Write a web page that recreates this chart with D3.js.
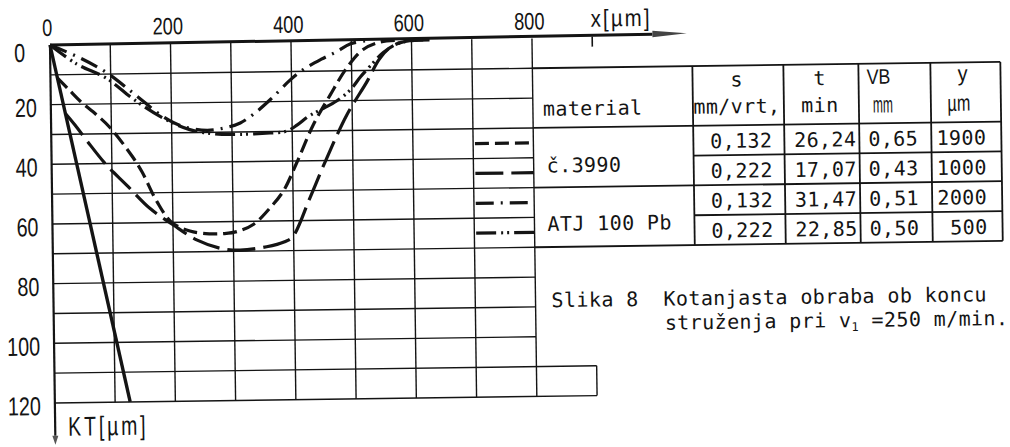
<!DOCTYPE html>
<html>
<head>
<meta charset="utf-8">
<script src="https://cdn.jsdelivr.net/npm/d3@7"></script>
<style>
  html, body { margin: 0; padding: 0; background: #fff; }
  svg { display: block; }
</style>
</head>
<body>
<svg id="chart" width="1010" height="447"></svg>
<script>
// ---- axis ticks ----
const xTickValues = [0, 200, 400, 600, 800];
const yTickValues = [0, 20, 40, 60, 80, 100, 120];
const gridXValues = [100, 200, 300, 400, 500, 600, 700, 800];
const gridYValues = [10, 20, 30, 40, 50, 60, 70, 80, 90, 100, 110, 120];

// ---- crater profiles: [x µm, KT µm] ----
const rakeFace = [[0, 0], [125, 120]];
const c3990_s0132 = [[11, 11], [30, 15], [49, 19], [75, 23.5], [98, 28], [135, 38], [150, 43], [174, 53],
  [198, 60], [228, 63], [260, 64], [285, 64], [306, 63.4], [334, 61], [362, 55.5], [384, 50], [407, 40.5],
  [435, 28], [464, 18], [492, 9], [519, 3], [548, 0.5], [575, 0]];
const c3990_s0222 = [[24, 23], [40, 27], [60, 32.5], [91, 40.5], [124, 47.3], [162, 55.2], [200, 60.8],
  [239, 66], [278, 68.9], [311, 69.6], [355, 68.6], [385, 67], [398, 65.5], [428, 52.4], [454, 40.4],
  [491, 24.8], [525, 13.8], [547, 6], [569, 1.8], [597, 0.2], [620, 0]];
const atj_s0132 = [[0, 0], [50, 4.5], [94, 9.6], [140, 17], [186, 24.5], [220, 28], [259, 29.3], [290, 28.5],
  [314, 27], [340, 23.5], [366, 19], [398, 12.8], [419, 9.5], [450, 6], [476, 3.5], [498, 1], [525, 0]];
const atj_s0222 = [[0, 0], [44, 6.5], [93, 11.4], [137, 18.5], [186, 25], [230, 29], [270, 30.5], [313, 30.8],
  [363, 30.5], [390, 30], [408, 28], [428, 25], [447, 23], [475, 20], [497, 16.5], [515, 12], [531, 8.5],
  [553, 4], [576, 1.2], [600, 0.2], [630, 0]];

// ---- table ----
const materials = ["č.3990", "ATJ 100 Pb"];
const feedValues = ["0,132", "0,222", "0,132", "0,222"];
const timeValues = ["26,24", "17,07", "31,47", "22,85"];
const wearValues = ["0,65", "0,43", "0,51", "0,50"];
const lengthValues = ["1900", "1000", "2000", "500"];

// ---- drawing ----
const ink = "#141414";
const mono = "'DejaVu Sans Mono', 'Liberation Mono', monospace";
const lettering = "'Liberation Sans', Arial, sans-serif";
const squeeze = 0.76;          // condensed stencil lettering of the axes
const dashStyles = ["14,6", "28,8", "18,7,2,7", "20,5,2,4,2,5"];

const svg = d3.select("#chart");
const x = d3.scaleLinear().domain([0, 800]).range([50, 532]);
const y = d3.scaleLinear().domain([0, 120]).range([45, 403]);

// the whole sheet sits slightly tilted
const sheet = svg.append("g").attr("transform", "rotate(-0.78,50,45)");

// grid
const grid = sheet.append("g").attr("stroke", ink).attr("stroke-width", 1.4).attr("fill", "none");
grid.selectAll("line.v").data(gridXValues).join("line").attr("class", "v")
  .attr("x1", d => x(d)).attr("x2", d => x(d)).attr("y1", y(0)).attr("y2", y(120));
grid.selectAll("line.h").data(gridYValues).join("line").attr("class", "h")
  .attr("x1", x(0)).attr("x2", d => d >= 110 ? x(900) : x(800)).attr("y1", d => y(d)).attr("y2", d => y(d));
grid.append("line").attr("x1", x(900)).attr("x2", x(900)).attr("y1", y(110)).attr("y2", y(120));

// table frame
const colEdges = [x(800), 692, 783, 858, 930, 1000];
const tableRight = colEdges[colEdges.length - 1];
const frame = sheet.append("g").attr("stroke", ink).attr("stroke-width", 1.8);
[[10, colEdges[0]], [30, colEdges[0]], [40, colEdges[1]], [50, colEdges[0]], [60, colEdges[1]], [70, colEdges[0]]]
  .forEach(([v, x0]) => frame.append("line").attr("x1", x0).attr("x2", tableRight).attr("y1", y(v)).attr("y2", y(v)));
colEdges.slice(1).forEach(cx => frame.append("line").attr("x1", cx).attr("x2", cx).attr("y1", y(10)).attr("y2", y(70)));

// axes lines
const axes = sheet.append("g").attr("stroke", ink).attr("fill", "none");
axes.append("line").attr("x1", x(0)).attr("x2", x(1000)).attr("y1", y(0)).attr("y2", y(0) - 2.5).attr("stroke-width", 3);
axes.append("path").attr("fill", "#444").attr("stroke", "none")
  .attr("d", `M${x(1000)},${y(0) - 6} L${x(1057)},${y(0) - 3} L${x(1000)},${y(0) + 0.5} Z`);
axes.append("line").attr("x1", x(900)).attr("x2", x(900)).attr("y1", y(0) - 1).attr("y2", y(0) + 9).attr("stroke-width", 1.6);
axes.append("line").attr("x1", x(0)).attr("x2", x(0)).attr("y1", y(0)).attr("y2", y(131)).attr("stroke-width", 2.2);
axes.append("path").attr("fill", "#555").attr("stroke", "none")
  .attr("d", `M${x(0) - 3},${y(131)} L${x(0) + 3},${y(131)} L${x(0)},${y(131) + 9} Z`);

// tick labels (condensed by a horizontal scale)
const xAxis = sheet.append("g").attr("transform", `translate(0,${y(0)})`)
  .call(d3.axisTop(x).tickValues(xTickValues).tickSize(0).tickPadding(9));
xAxis.select(".domain").remove();
xAxis.selectAll("text").attr("font-family", lettering).attr("font-size", 24).attr("fill", ink)
  .attr("transform", `scale(${squeeze},1)`).attr("dx", -3 / squeeze);

const yAxis = sheet.append("g").attr("transform", `translate(${x(0)},0)`)
  .call(d3.axisLeft(y).tickValues(yTickValues).tickSize(0).tickPadding(14));
yAxis.select(".domain").remove();
yAxis.selectAll("text").attr("font-family", lettering).attr("font-size", 26).attr("fill", ink)
  .attr("transform", `scale(${squeeze},1)`)
  .attr("dy", d => d === 0 ? "0.62em" : "0.44em")
  .attr("x", d => (d === 0 ? -25 : -14) / squeeze);

function stencil(str, x0, base, size, sx, sy, spacing, anchor) {
  return sheet.append("text").attr("transform", `translate(${x0},${base}) scale(${sx},${sy})`)
    .attr("text-anchor", anchor || "start").attr("font-family", lettering).attr("font-size", size)
    .attr("letter-spacing", spacing || 0).attr("fill", ink).text(str);
}
stencil("x[µm]", 591, 34, 24, 0.85, 1, 2.5);
stencil("KT[µm]", 63, 436, 27, 0.72, 1, 4);

// profiles
const line = d3.line().x(d => x(d[0])).y(d => y(d[1])).curve(d3.curveCatmullRom.alpha(0.5));
const curves = sheet.append("g").attr("fill", "none").attr("stroke", ink).attr("stroke-linecap", "butt");
curves.append("path").datum(rakeFace).attr("d", line).attr("stroke-width", 3.4);
[c3990_s0132, c3990_s0222, atj_s0132, atj_s0222].forEach((s, i) => {
  curves.append("path").datum(s).attr("d", line).attr("stroke-width", 3.2).attr("stroke-dasharray", dashStyles[i]);
});

// legend samples in the 700–800 column
const legend = sheet.append("g").attr("stroke", ink).attr("stroke-width", 3.2);
dashStyles.forEach((ds, i) => {
  legend.append("line").attr("x1", x(703)).attr("x2", x(800)).attr("y1", y(35 + 10 * i)).attr("y2", y(35 + 10 * i))
    .attr("stroke-dasharray", ds);
});

// table text
const txt = sheet.append("g").attr("fill", ink).attr("font-family", mono).attr("font-size", 20).attr("letter-spacing", 0.4);
txt.append("text").attr("x", 542).attr("y", y(26)).text("material");
txt.selectAll("text.mat").data(materials).join("text").attr("class", "mat")
  .attr("x", 545).attr("y", (d, i) => y(45 + 19.6 * i)).text(d => d);

txt.append("text").attr("x", 736).attr("y", y(17)).attr("text-anchor", "middle").text("s");
txt.append("text").attr("x", 736).attr("y", y(26)).attr("text-anchor", "middle").text("mm/vrt,");
txt.append("text").attr("x", 819).attr("y", y(17)).attr("text-anchor", "middle").text("t");
txt.append("text").attr("x", 819).attr("y", y(26)).attr("text-anchor", "middle").text("min");

stencil("VB", 878, y(16.8), 21, 0.85, 1, 0, "middle");
stencil("mm", 882, y(26.4), 16, 0.75, 1.45, 0, "middle");
stencil("y", 962, y(16.2), 22, 0.9, 1, 0, "middle");
stencil("µm", 958, y(26.2), 19, 0.85, 1.2, 0, "middle");

const rowBase = i => y(37.6 + 10 * i);
txt.selectAll("text.s").data(feedValues).join("text").attr("class", "s")
  .attr("x", 771).attr("y", (d, i) => rowBase(i)).attr("text-anchor", "end").text(d => d);
txt.selectAll("text.t").data(timeValues).join("text").attr("class", "t")
  .attr("x", 855).attr("y", (d, i) => rowBase(i)).attr("text-anchor", "end").text(d => d);
txt.selectAll("text.vb").data(wearValues).join("text").attr("class", "vb")
  .attr("x", 867).attr("y", (d, i) => rowBase(i)).text(d => d);
txt.selectAll("text.yv").data(lengthValues).join("text").attr("class", "yv")
  .attr("x", 985).attr("y", (d, i) => rowBase(i)).attr("text-anchor", "end").text(d => d);

// caption
const cap = sheet.append("g").attr("fill", ink).attr("font-family", mono).attr("font-size", 20)
  .attr("letter-spacing", 0.4);
cap.append("text").attr("x", 548).attr("y", 314).text("Slika 8\u00a0\u00a0Kotanjasta obraba ob koncu");
const l2 = cap.append("text").attr("x", 661).attr("y", 338);
l2.append("tspan").text("struženja pri v");
l2.append("tspan").attr("font-size", 12).attr("dy", 4).text("1");
l2.append("tspan").attr("dy", -4).text("\u00a0=250 m/min.");
</script>
</body>
</html>
